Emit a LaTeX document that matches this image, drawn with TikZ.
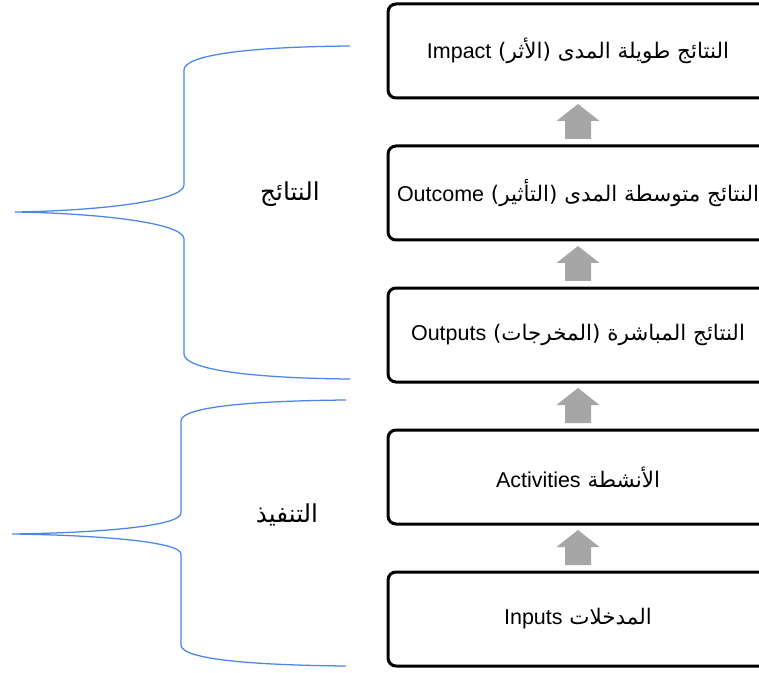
\documentclass[tikz,border=0pt]{standalone}
\usepackage{fontspec}
\setmainfont{Liberation Sans}
\newfontfamily\arabicfont[Script=Arabic]{DejaVu Sans}
\TeXXeTstate=1
\usetikzlibrary{calc}
\definecolor{bracecol}{RGB}{74,134,232}
\definecolor{arrowcol}{RGB}{166,166,166}
\newcommand{\ar}[2]{{\arabicfont\beginR #1\beginL{\rmfamily #2}\endL\endR}}
\begin{document}
\begin{tikzpicture}[x=0.75pt,y=-0.75pt,
  stepbox/.style={draw=black,line width=2.25pt,rounded corners=6pt,fill=white,
    minimum width=285pt,minimum height=70.5pt,outer sep=0pt,inner sep=0pt,
    font=\fontsize{16.1}{19}\selectfont},
  bracetext/.style={font=\arabicfont\fontsize{18.5}{22}\selectfont,inner sep=0pt},
  bracestyle/.style={draw=bracecol,line width=0.95pt},
  blockarrow/.style={fill=arrowcol}]
\clip (0,0) rectangle (759,673);
\fill[white] (0,0) rectangle (759,673);

\node[stepbox] (b1) at (578,51) {\ar{النتائج طويلة المدى (الأثر) }{Impact}};
\node[stepbox] (b2) at (578,193) {\ar{النتائج متوسطة المدى (التأثير) }{Outcome}};
\node[stepbox] (b3) at (578,335) {\ar{النتائج المباشرة (المخرجات) }{Outputs}};
\node[stepbox] (b4) at (578,477) {\ar{الأنشطة }{Activities}};
\node[stepbox] (b5) at (578,619) {\ar{المدخلات }{Inputs}};

\foreach \u/\l in {b1/b2,b2/b3,b3/b4,b4/b5}{
  \fill[blockarrow] ($(\l.north)+(-13,-7)$) -- ++(0,-18) -- ++(-8.5,0)
    -- ($(\u.south)+(0,6)$) -- ($(\l.north)+(21.5,-25)$) -- ++(-8.5,0)
    -- ++(0,18) -- cycle;
}

% upper brace
\draw[bracestyle] (350,46) .. controls (240,47) and (184,56) .. (184,70)
  -- (184,185) .. controls (184,202) and (90,211) .. (15,212)
  .. controls (90,213) and (184,222) .. (184,239)
  -- (184,354) .. controls (184,368) and (240,378) .. (350,379);
\node[bracetext] (t1) at (290,194) {\beginR النتائج\endR};

% lower brace
\draw[bracestyle] (346,400) .. controls (240,401) and (181,408) .. (181,421)
  -- (181,513) .. controls (181,527) and (90,533) .. (12,534)
  .. controls (90,535) and (181,541) .. (181,554)
  -- (181,645) .. controls (181,658) and (240,665) .. (346,666);
\node[bracetext] (t2) at (287,515) {\beginR التنفيذ\endR};
\end{tikzpicture}
\end{document}
